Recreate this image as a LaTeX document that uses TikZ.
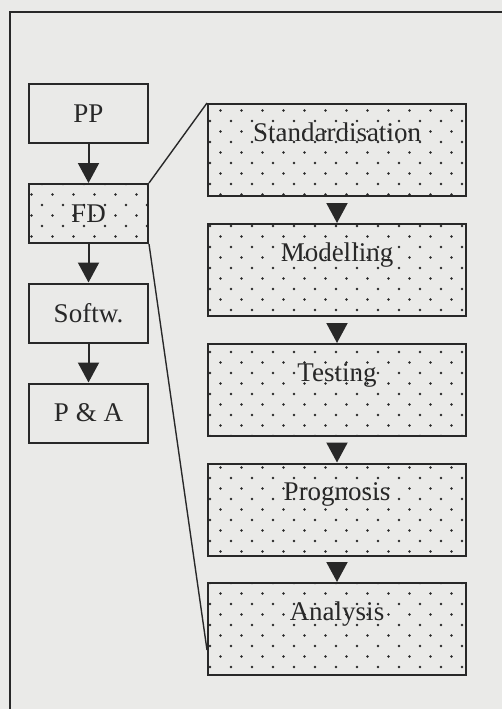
\documentclass[tikz,border=0pt]{standalone}
\usepackage{fontspec}
\setmainfont{Liberation Serif}
\usetikzlibrary{arrows.meta,patterns.meta}
\definecolor{paper}{RGB}{234,234,232}
\definecolor{ink}{RGB}{40,40,40}
\pgfdeclarepattern{name=fddots,type=uncolored,
  bottom left={\pgfpoint{-1.5pt}{-1.5pt}},top right={\pgfpoint{19.5pt}{19.5pt}},
  tile size={\pgfpoint{21pt}{21pt}},
  code={\pgfpathcircle{\pgfpoint{0pt}{0pt}}{1.35pt}
        \pgfpathcircle{\pgfpoint{10.5pt}{10.5pt}}{1.35pt}
        \pgfusepath{fill}}}
\begin{document}
\begin{tikzpicture}[x=1pt,y=-1pt,line width=2pt,
    lbox/.style={draw=ink,text=ink,minimum width=119pt,minimum height=59pt,inner sep=0pt,font=\fontsize{27}{30}\selectfont},
    dotbox/.style={pattern=fddots,pattern color=ink},
    rbox/.style={draw=ink,text=ink,dotbox,minimum width=258pt,inner sep=0pt,text height=37pt,text depth=55pt,font=\fontsize{27}{30}\selectfont},
    arr/.style={draw=ink,-{Triangle[width=21pt,length=20pt]}}]
        \fill[paper] (0,0) rectangle (502,709);
        \useasboundingbox (0,0) rectangle (502,709);
        \draw[ink] (10,709) -- (10,12) -- (502,12);
        \node[lbox] (pp) at (88.5,113.5) {PP};
        \node[lbox,dotbox] (fd) at (88.5,213.5) {FD};
        \node[lbox] (sw) at (88.5,313) {Softw.};
        \node[lbox] (pa) at (88.5,413) {P \& A};
        \draw[arr] (pp) -- (fd);
        \draw[arr] (fd) -- (sw);
        \draw[arr] (sw) -- (pa);
        \node[rbox] (std) at (337,150) {Standardisation};
        \node[rbox] (mod) at (337,270) {Modelling};
        \node[rbox] (tst) at (337,390) {Testing};
        \node[rbox] (prg) at (337,509.5) {Prognosis};
        \node[rbox] (anl) at (337,629) {Analysis};
        \draw[arr,shorten <=9pt] (std) -- (mod);
        \draw[arr,shorten <=9pt] (mod) -- (tst);
        \draw[arr,shorten <=9pt] (tst) -- (prg);
        \draw[arr,shorten <=9pt] (prg) -- (anl);
        \coordinate (anlin) at ([yshift=26pt]anl.south west);
        \draw[ink,line width=1.4pt] (fd.north east) -- (std.north west);
        \draw[ink,line width=1.4pt] (fd.south east) -- (anlin);
    \end{tikzpicture}
\end{document}
